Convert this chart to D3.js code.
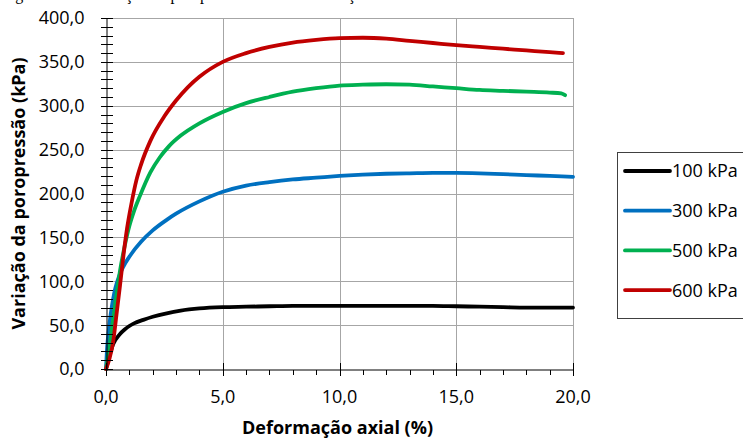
<!DOCTYPE html>
<html>
<head>
<meta charset="utf-8">
<script src="https://cdn.jsdelivr.net/npm/d3@7"></script>
<style>
  html, body { margin: 0; padding: 0; background: #ffffff; }
  svg { display: block; }
</style>
</head>
<body>
<svg id="chart" width="743" height="439"></svg>
<script>
// Legend entries (confining pressure)
const seriesNames = ["100 kPa", "300 kPa", "500 kPa", "600 kPa"];
const seriesColors = ["#000000", "#0070c0", "#00b050", "#c00000"];

// Axial strain (%) and pore-pressure change (kPa) for each test
const strain100 = [0, 0.15, 0.3, 0.4, 0.6, 0.8, 1.0, 1.2, 1.6, 2.0, 2.6, 3.2, 4.0, 5.0, 6.0, 7.0, 8.0, 10.0, 12.0, 14.0, 15.0, 16.0, 17.0, 18.0, 19.0, 20.0];
const du100     = [0, 15, 28, 33, 40, 45, 49, 52, 56, 59.5, 63.5, 66.5, 69, 70.5, 71, 71.5, 72, 72, 72, 72, 71.5, 71, 70.5, 70, 70, 70];

const strain300 = [0, 0.05, 0.1, 0.2, 0.3, 0.4, 0.55, 0.75, 1.0, 1.5, 2.0, 2.6, 3.0, 4.0, 5.0, 6.0, 7.0, 8.0, 9.0, 10.0, 11.0, 12.0, 13.0, 14.0, 15.0, 16.0, 17.0, 18.0, 19.0, 20.0];
const du300     = [0, 25, 40, 62, 79, 92, 105, 117, 128, 145, 158, 170, 177, 191, 202, 209, 213, 216, 218, 220, 221.5, 222.5, 223, 223.5, 223.5, 223, 222, 221, 220, 219];

const strain500 = [0, 0.2, 0.4, 0.6, 0.8, 1.0, 1.2, 1.45, 1.9, 2.3, 2.7, 3.2, 4.0, 5.0, 6.0, 7.0, 8.0, 9.0, 10.0, 11.0, 12.0, 13.0, 14.0, 15.0, 16.0, 17.0, 18.0, 19.0, 19.5, 19.66];
const du500     = [0, 35, 75, 112, 140, 163, 180, 197, 224, 241, 254, 266, 280, 293, 303, 310, 316, 320, 323, 324, 324.5, 324, 322, 320, 318, 317, 316, 315, 314, 312];

const strain600 = [0, 0.15, 0.3, 0.45, 0.6, 0.75, 0.9, 1.1, 1.3, 1.5, 1.9, 2.5, 3.0, 3.5, 4.0, 5.0, 6.0, 7.0, 8.0, 9.0, 10.0, 11.0, 12.0, 13.0, 14.0, 15.0, 16.0, 17.0, 18.0, 19.0, 19.57];
const du600     = [0, 12, 30, 62, 95, 130, 160, 190, 215, 233, 260, 288, 306, 321, 333, 350, 360, 367, 372, 375, 377, 377.5, 376.5, 374, 371.5, 369, 367, 365, 363, 361, 360];

// Axis ticks
const xMajorTicks = [0, 5, 10, 15, 20];
const yMajorTicks = [0, 50, 100, 150, 200, 250, 300, 350, 400];

const xTitle = "Deformação axial (%)";
const yTitle = "Variação da poropressão (kPa)";
const caption = "Figura 4.10 – Variação da poropressão com a deformação axial nos ensaios triaxiais";

const seriesX = [strain100, strain300, strain500, strain600];
const seriesY = [du100, du300, du500, du600];
const series = seriesNames.map((name, i) => ({
  name,
  color: seriesColors[i],
  points: seriesX[i].map((s, j) => [s, seriesY[i][j]])
}));

const svg = d3.select("#chart");
const font = "'Open Sans', 'Segoe UI', sans-serif";

const x = d3.scaleLinear().domain([0, 20]).range([106, 573]);
const y = d3.scaleLinear().domain([0, 400]).range([369, 18]);

const fmt = d3.formatLocale({ decimal: ",", thousands: ".", grouping: [3], currency: ["R$", ""] }).format(".1f");

// Caption line running off the top edge (only its descenders remain in view)
svg.append("text")
  .attr("x", 2).attr("y", -0.5)
  .attr("font-family", "'Liberation Serif', 'Times New Roman', serif")
  .attr("font-size", 16)
  .attr("fill", "#000")
  .text(caption);

// Gridlines
const grid = svg.append("g").attr("shape-rendering", "crispEdges");
grid.selectAll("line.h")
  .data(yMajorTicks.filter(d => d > 0))
  .join("line")
  .attr("x1", x(0)).attr("x2", x(20))
  .attr("y1", d => Math.round(y(d)) + 0.5).attr("y2", d => Math.round(y(d)) + 0.5)
  .attr("stroke", "#a6a6a6").attr("stroke-width", 1);
grid.selectAll("line.v")
  .data(xMajorTicks.filter(d => d > 0))
  .join("line")
  .attr("y1", y(0)).attr("y2", y(400))
  .attr("x1", d => Math.round(x(d)) + 0.5).attr("x2", d => Math.round(x(d)) + 0.5)
  .attr("stroke", "#a6a6a6").attr("stroke-width", 1);

// Data lines
const line = d3.line()
  .x(d => x(d[0]))
  .y(d => y(d[1]))
  .curve(d3.curveMonotoneX);

svg.append("g").selectAll("path")
  .data(series)
  .join("path")
  .attr("d", d => line(d.points))
  .attr("fill", "none")
  .attr("stroke", d => d.color)
  .attr("stroke-width", 3.8)
  .attr("stroke-linejoin", "round")
  .attr("stroke-linecap", "round");

// Y axis: domain from d3.axisLeft, labels and crossing minor/major ticks
const yAxis = svg.append("g")
  .attr("transform", `translate(${Math.round(x(0)) + 0.5},0)`)
  .call(d3.axisLeft(y).tickValues(yMajorTicks).tickSize(0).tickFormat(fmt));
yAxis.select(".domain").attr("stroke", "#000").attr("stroke-width", 1);
yAxis.selectAll(".tick").remove();
yAxis.selectAll("text.lbl")
  .data(yMajorTicks)
  .join("text")
  .attr("x", -22)
  .attr("y", d => y(d) + 6.4)
  .attr("text-anchor", "end")
  .attr("font-family", font).attr("font-size", 18).attr("fill", "#000")
  .text(fmt);
yAxis.selectAll("line.tk")
  .data(d3.range(0, 401, 10))
  .join("line")
  .attr("shape-rendering", "crispEdges")
  .attr("x1", -6).attr("x2", 6)
  .attr("y1", d => Math.round(y(d)) + 0.5).attr("y2", d => Math.round(y(d)) + 0.5)
  .attr("stroke", "#000").attr("stroke-width", 1);

// X axis
const xAxis = svg.append("g")
  .attr("transform", `translate(0,${Math.round(y(0)) + 0.5})`)
  .call(d3.axisBottom(x).tickValues(xMajorTicks).tickSize(0).tickFormat(fmt));
xAxis.select(".domain").attr("stroke", "#000").attr("stroke-width", 1);
xAxis.selectAll(".tick").remove();
xAxis.selectAll("text.lbl")
  .data(xMajorTicks)
  .join("text")
  .attr("x", d => x(d))
  .attr("y", 33)
  .attr("text-anchor", "middle")
  .attr("font-family", font).attr("font-size", 18).attr("fill", "#000")
  .text(fmt);
xAxis.selectAll("line.minor")
  .data(d3.range(1, 20).filter(d => d % 5 !== 0))
  .join("line")
  .attr("shape-rendering", "crispEdges")
  .attr("x1", d => Math.round(x(d)) + 0.5).attr("x2", d => Math.round(x(d)) + 0.5)
  .attr("y1", 0).attr("y2", 5)
  .attr("stroke", "#000").attr("stroke-width", 1);
xAxis.selectAll("line.major")
  .data(xMajorTicks)
  .join("line")
  .attr("shape-rendering", "crispEdges")
  .attr("x1", d => Math.round(x(d)) + 0.5).attr("x2", d => Math.round(x(d)) + 0.5)
  .attr("y1", -7).attr("y2", 6)
  .attr("stroke", "#000").attr("stroke-width", 1);

// Axis titles
svg.append("text")
  .attr("x", 337.5).attr("y", 434)
  .attr("text-anchor", "middle")
  .attr("font-family", font).attr("font-size", 18).attr("font-weight", "bold")
  .attr("fill", "#000")
  .text(xTitle);

svg.append("text")
  .attr("transform", "translate(25,193.5) rotate(-90)")
  .attr("text-anchor", "middle")
  .attr("font-family", font).attr("font-size", 18).attr("font-weight", "bold")
  .attr("fill", "#000")
  .text(yTitle);

// Legend
const legend = svg.append("g");
legend.append("rect")
  .attr("x", 617.5).attr("y", 152.5)
  .attr("width", 160).attr("height", 166)
  .attr("fill", "#fff")
  .attr("stroke", "#404040").attr("stroke-width", 1)
  .attr("shape-rendering", "crispEdges");
const entry = legend.selectAll("g.entry")
  .data(series)
  .join("g")
  .attr("transform", (d, i) => `translate(0,${171 + i * 39.7})`);
entry.append("line")
  .attr("x1", 625).attr("x2", 670)
  .attr("y1", 0).attr("y2", 0)
  .attr("stroke", d => d.color)
  .attr("stroke-width", 3.8)
  .attr("stroke-linecap", "round");
entry.append("text")
  .attr("x", 672).attr("y", 6.4)
  .attr("font-family", font).attr("font-size", 18).attr("fill", "#000")
  .text(d => d.name);
</script>
</body>
</html>
